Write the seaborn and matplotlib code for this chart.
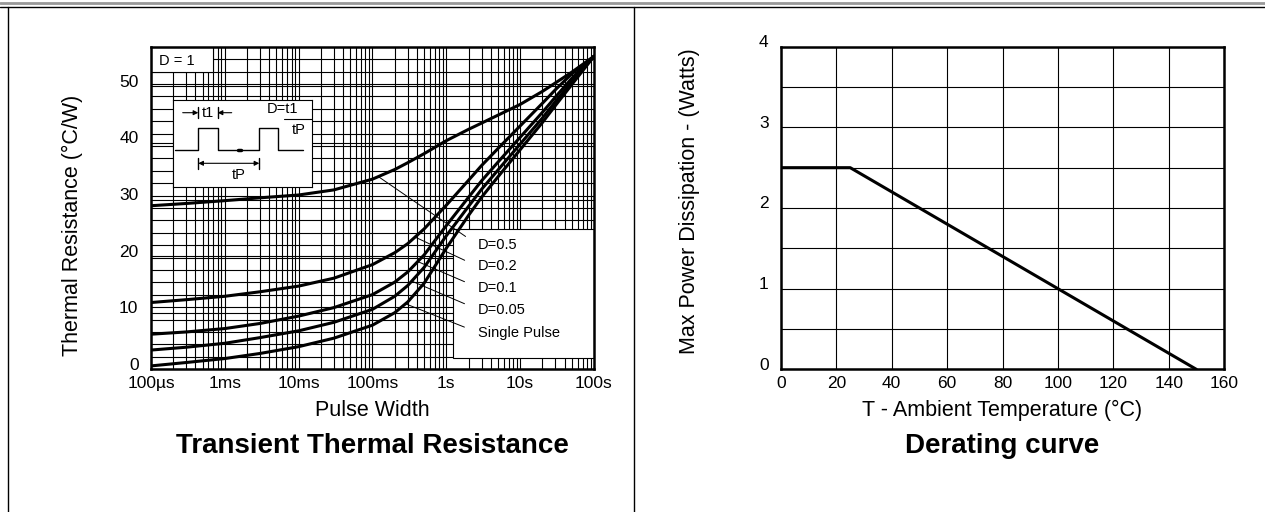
import numpy as np
import pandas as pd
import seaborn as sns
import matplotlib.pyplot as plt
from matplotlib.patches import Rectangle
from matplotlib.ticker import LogLocator, NullFormatter
from matplotlib.transforms import ScaledTranslation

# ---- data ----
pulse_width = [1e-4, 3e-4, 1e-3, 3e-3, 1e-2, 3e-2, 0.1, 0.2, 0.3, 0.5,
               1, 2, 3, 5, 10, 20, 30, 50, 100]
r_d05 = [28.9, 29.3, 29.8, 30.3, 30.8, 31.7, 33.6, 35.3, 36.5, 38.1,
         40.4, 42.4, 43.5, 44.9, 46.8, 49.1, 50.6, 52.5, 55.3]
r_d02 = [11.8, 12.3, 12.9, 13.7, 14.7, 16.1, 18.5, 20.6, 22.2, 24.8,
         29.0, 33.4, 36.0, 39.0, 43.0, 47.0, 49.4, 52.2, 55.3]
r_d01 = [6.2, 6.6, 7.2, 8.1, 9.4, 10.9, 13.2, 15.4, 17.2, 20.2,
         25.4, 30.4, 33.3, 36.6, 41.0, 45.4, 48.1, 51.4, 55.3]
r_d005 = [3.4, 3.9, 4.6, 5.6, 6.8, 8.3, 10.6, 12.9, 14.8, 18.0,
          23.6, 28.8, 31.8, 35.2, 39.8, 44.4, 47.3, 50.8, 55.3]
r_single = [0.6, 1.2, 1.9, 2.8, 4.0, 5.5, 7.8, 10.0, 11.9, 15.2,
            21.4, 27.2, 30.4, 34.0, 38.8, 43.6, 46.6, 50.3, 55.3]
curve_names = ["D=0.5", "D=0.2", "D=0.1", "D=0.05", "Single Pulse"]
leader_t = [0.12, 0.377, 0.41, 0.34, 0.28]

x_tick_vals = [1e-4, 1e-3, 1e-2, 1e-1, 1, 10, 100]
x_tick_labels = ["100µs", "1ms", "10ms", "100ms", "1s", "10s", "100s"]

temp_c = [0, 25, 150]
power_w = [2.5, 2.5, 0]

curves = [r_d05, r_d02, r_d01, r_d005, r_single]
df = pd.concat([pd.DataFrame({"t": pulse_width, "R": r, "curve": n})
                for r, n in zip(curves, curve_names)])
derate = pd.DataFrame({"T": temp_c, "P": power_w})

sns.set_theme(style="white")
plt.rcParams["font.family"] = ["Liberation Sans", "DejaVu Sans"]
plt.rcParams["text.color"] = "black"

W, H = 1265, 512
fig = plt.figure(figsize=(W / 100, H / 100), dpi=100)


def fx(x):
    return x / W


def fy(y):
    return 1 - y / H


# frame of the datasheet page
fig.add_artist(plt.Line2D([0, 1], [fy(3), fy(3)], color="#999999", lw=2))
fig.add_artist(plt.Line2D([0, 1], [fy(6.5), fy(6.5)], color="black", lw=1))
for xv in (8, 634):
    fig.add_artist(plt.Line2D([fx(xv), fx(xv)], [fy(6.5), 0], color="black", lw=1))

# ---- left: transient thermal resistance ----
ax1 = fig.add_axes([fx(151), fy(369.3), 443 / W, 322.6 / H])
sns.lineplot(data=df, x="t", y="R", hue="curve", palette=["black"] * 5,
             estimator=None, sort=True, legend=False, lw=2.2, ax=ax1, zorder=3)
ax1.set_xscale("log")
ax1.set_xlim(1e-4, 100)
ax1.set_ylim(0, 57)
ax1.set_xticks(x_tick_vals, x_tick_labels)
ax1.set_yticks([0, 10, 20, 30, 40, 50])
ax1.set_yticks(np.linspace(0, 57, 27), minor=True)
ax1.xaxis.set_minor_locator(LogLocator(subs=np.arange(2, 10)))
ax1.xaxis.set_minor_formatter(NullFormatter())
ax1.grid(True, which="both", color="black", lw=0.8)
ax1.set_axisbelow(True)
ax1.set_xlabel("")
ax1.set_ylabel("")

# D = 1 box and label box
ax1.add_patch(Rectangle((0, 0.923), 0.14, 0.077, transform=ax1.transAxes,
                        facecolor="white", edgecolor="black", lw=0.8, zorder=1.5))
ax1.text(0.017, 0.955, "D = 1", transform=ax1.transAxes, fontsize=10.5,
         va="center", ha="left", zorder=4)
ax1.add_patch(Rectangle((0.682, 0.034), 0.318, 0.402, transform=ax1.transAxes,
                        facecolor="white", edgecolor="black", lw=0.8, zorder=1.5))
label_y = [245, 266.5, 287.5, 309.5, 332.5]
for name, tl, r, ly in zip(curve_names, leader_t, curves, label_y):
    rv = np.interp(np.log10(tl), np.log10(pulse_width), r)
    ax1.annotate(name, xy=(tl, rv), xycoords="data",
                 xytext=(478, H - ly), textcoords="figure pixels",
                 ha="left", va="center", fontsize=10.5, zorder=4,
                 arrowprops=dict(arrowstyle="-", color="black", lw=0.7,
                                 shrinkA=8, shrinkB=0, relpos=(0, 0.5)))

# pulse diagram
axi = fig.add_axes([fx(172.7), fy(186.7), 139 / W, 86.7 / H])
axi.set_xlim(172.7, 311.7)
axi.set_ylim(186.7, 100)
axi.set_xticks([])
axi.set_yticks([])
axi.set_facecolor("white")
for s in axi.spines.values():
    s.set_color("black")
    s.set_linewidth(0.8)
k = dict(color="black", lw=1)
axi.plot([175, 198.3, 198.3, 217.7, 217.7, 259.3, 259.3, 278.3, 278.3, 302.7],
         [150, 150, 127.7, 127.7, 150, 150, 127.7, 127.7, 150, 150], **k)
axi.plot([237.5, 241], [150, 150], color="black", lw=2.5)
axi.annotate("", xy=(198.3, 112.7), xytext=(182.7, 112.7),
             arrowprops=dict(arrowstyle="-|>", color="black", lw=0.8,
                             mutation_scale=7, shrinkA=0, shrinkB=0))
axi.annotate("", xy=(217.7, 112.7), xytext=(231.7, 112.7),
             arrowprops=dict(arrowstyle="-|>", color="black", lw=0.8,
                             mutation_scale=7, shrinkA=0, shrinkB=0))
axi.plot([198.3, 198.3], [107, 118], **k)
axi.plot([217.7, 217.7], [107, 118], **k)
axi.text(207.5, 113, "t1", ha="center", va="center", fontsize=10.5)
axi.annotate("", xy=(259.3, 163.3), xytext=(198.3, 163.3),
             arrowprops=dict(arrowstyle="<|-|>", color="black", lw=0.8,
                             mutation_scale=7, shrinkA=0, shrinkB=0))
axi.plot([198.3, 198.3], [158, 169], **k)
axi.plot([259.3, 259.3], [158, 169], **k)
axi.text(239, 175, "tP", ha="center", va="center", fontsize=10.5)
axi.text(282, 109, "D=t1", ha="center", va="center", fontsize=10.5)
axi.plot([284, 311.7], [119, 119], color="black", lw=0.8)
axi.text(298.5, 130, "tP", ha="center", va="center", fontsize=10.5)

# ---- right: derating curve ----
ax2 = fig.add_axes([fx(781), fy(369.3), 443 / W, 322.6 / H])
sns.lineplot(data=derate, x="T", y="P", color="black", lw=2.2, ax=ax2, zorder=3)
ax2.set_xlim(0, 160)
ax2.set_ylim(0, 4)
ax2.set_xticks(range(0, 161, 20))
ax2.set_yticks([0, 1, 2, 3, 4])
ax2.set_yticks(np.arange(0, 4.01, 0.5), minor=True)
ax2.grid(True, which="both", color="black", lw=0.8)
ax2.set_axisbelow(True)
ax2.set_xlabel("")
ax2.set_ylabel("")

shift = ScaledTranslation(0, 4 / 72, fig.dpi_scale_trans)
for ax in (ax1, ax2):
    for s in ax.spines.values():
        s.set_color("black")
        s.set_linewidth(1.8)
    ax.tick_params(which="both", length=0, labelsize=12.5, colors="black")
    ax.tick_params(axis="y", pad=9)
    ax.tick_params(axis="x", pad=5)
    for lab in ax.get_yticklabels():
        lab.set_transform(lab.get_transform() + shift)

# axis labels and titles
fig.text(fx(72), fy(225), "Thermal Resistance (°C/W)", rotation=90,
         ha="center", va="center", fontsize=15.5)
fig.text(fx(372.5), fy(410), "Pulse Width", ha="center", va="center", fontsize=15.5)
fig.text(fx(372.5), fy(446), "Transient Thermal Resistance", ha="center",
         va="center", fontsize=20, fontweight="bold")
fig.text(fx(690), fy(201), "Max Power Dissipation - (Watts)", rotation=90,
         ha="center", va="center", fontsize=15.5)
fig.text(fx(1002.5), fy(410), "T - Ambient Temperature (°C)", ha="center",
         va="center", fontsize=15.5)
fig.text(fx(1002.5), fy(446), "Derating curve", ha="center", va="center",
         fontsize=20, fontweight="bold")

fig.savefig("out.png", dpi=100, facecolor="white")
